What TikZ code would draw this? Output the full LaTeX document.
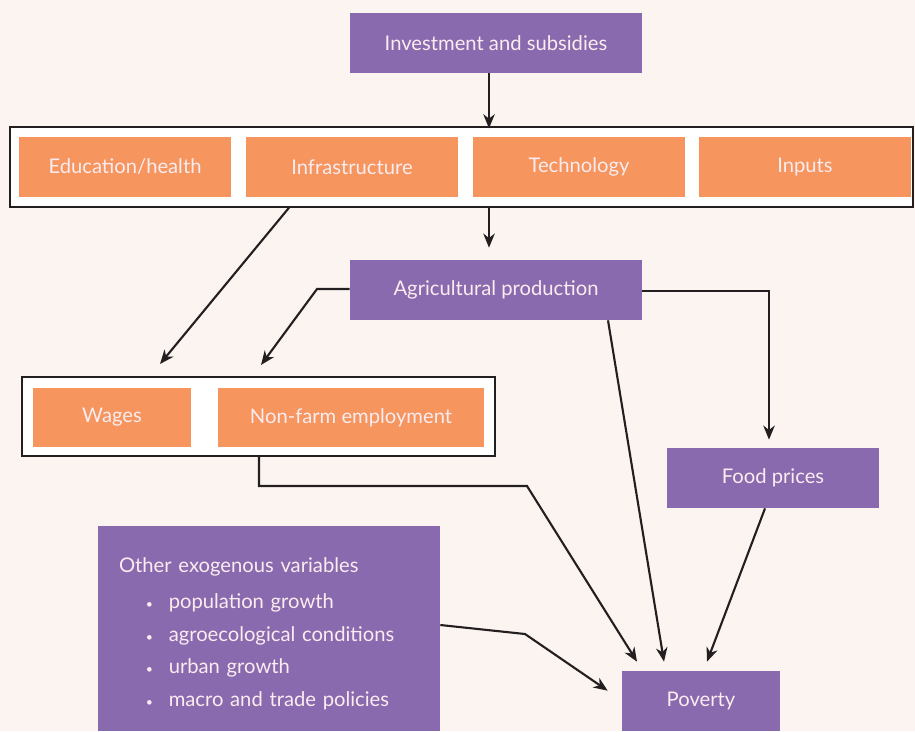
\documentclass[tikz,border=0pt]{standalone}
\usepackage{fontspec}
\setmainfont{Lato}
\usepackage{xcolor}
\usetikzlibrary{arrows.meta,positioning,calc}
\definecolor{paper}{RGB}{252,244,241}
\definecolor{driver}{RGB}{138,106,174}
\definecolor{channel}{RGB}{246,149,94}
\definecolor{boxtext}{RGB}{250,236,240}
\definecolor{ink}{RGB}{35,31,32}
\newcommand{\exoitem}[1]{\hspace*{15.3pt}\makebox[13pt][l]{\scriptsize\textbullet}#1}
\tikzstyle{purplebox}=[fill=driver, text=boxtext, minimum width=5.84cm, minimum height=1.2cm, inner sep=0pt]
\tikzstyle{orangebox}=[fill=channel, text=boxtext, minimum width=4.24cm, minimum height=1.2cm, inner sep=0pt]
\tikzstyle{frame}=[draw=ink, fill=white, line width=0.8pt, inner sep=0pt]
\tikzset{flow/.style={-{Stealth[length=8pt,width=6.5pt,inset=2.5pt]}, draw=ink, line width=1.2pt}}
\tikzset{y=-0.02cm}
\tikzset{x=0.02cm}
\begin{document}
\begin{tikzpicture}[font=\fontsize{11.5}{13.8}\selectfont]
  \fill[paper] (0,0) rectangle (915,731);
  \useasboundingbox (0,0) rectangle (915,731);

  %% Top level
  \draw (496,43) node[purplebox] (invest) {Investment and subsidies};

  \draw (461.5,167) node[frame, minimum width=18.06cm, minimum height=1.6cm] (topframe) {};
  \draw (125,167) node[orangebox] (edu) {Education/health};
  \draw (352,167) node[orangebox] (infra) {Infrastructure};
  \draw (579,167) node[orangebox] (tech) {Technology};
  \draw (805,167) node[orangebox] (inputs) {Inputs};

  \draw (496,290) node[purplebox] (agri) {Agricultural production};

  \draw (258.5,416.5) node[frame, minimum width=9.46cm, minimum height=1.58cm] (lowframe) {};
  \draw (112,417.5) node[orangebox, minimum width=3.16cm, minimum height=1.18cm] (wages) {Wages};
  \draw (351,417.5) node[orangebox, minimum width=5.32cm, minimum height=1.18cm] (nonfarm) {Non-farm employment};

  \draw (773,478) node[purplebox, minimum width=4.24cm] (food) {Food prices};

  \draw (269,628.5) node[purplebox, minimum width=6.84cm, minimum height=4.1cm, text width=6.0cm, align=left] (exo) {%
    \rule{0pt}{14.5pt}Other exogenous variables\\[6.6pt]
    \exoitem{population growth}\\[4.9pt]
    \exoitem{agroecological conditions}\\[4.9pt]
    \exoitem{urban growth}\\[4.9pt]
    \exoitem{macro and trade policies}};

  \draw (701,701) node[purplebox, minimum width=3.16cm] (poverty) {Poverty};

  %% Arrow ends
  \coordinate (wagestip) at (160,364);
  \coordinate (nonfarmtip) at (261,365);
  \coordinate (agribend) at (317,289);
  \coordinate (foodbend) at (769,291);
  \coordinate (nonfarmdrop) at (259,486);
  \coordinate (nonfarmbend) at (527,486);
  \coordinate (exobend) at (525,634);

  %% Connectors
  \draw[flow] (invest.south -| 489,0) -- ([yshift=-0.04cm]topframe.north -| 489,0);
  \draw[flow] (topframe.south -| 489,0) -- ([yshift=0.24cm]agri.north -| 489,0);
  \draw[flow] (topframe.south -| 289,0) -- (wagestip);
  \draw[flow] (agri.west |- agribend) -- (agribend) -- (nonfarmtip);
  \draw[flow] (agri.east |- foodbend) -- (foodbend) -- ([yshift=0.16cm]food.north -| foodbend);
  \draw[flow] (lowframe.south -| nonfarmdrop) -- (nonfarmdrop) -- (nonfarmbend) -- ([yshift=0.18cm]poverty.north -| 637,0);
  \draw[flow] (agri.south -| 608,0) -- ([yshift=0.18cm]poverty.north -| 664,0);
  \draw[flow] (food.south -| 765,0) -- ([yshift=0.18cm]poverty.north -| 707,0);
  \draw[flow] (exo.east |- 0,625) -- (exobend) -- ([xshift=-0.28cm,yshift=-0.4cm]poverty.north west);
\end{tikzpicture}
\end{document}
